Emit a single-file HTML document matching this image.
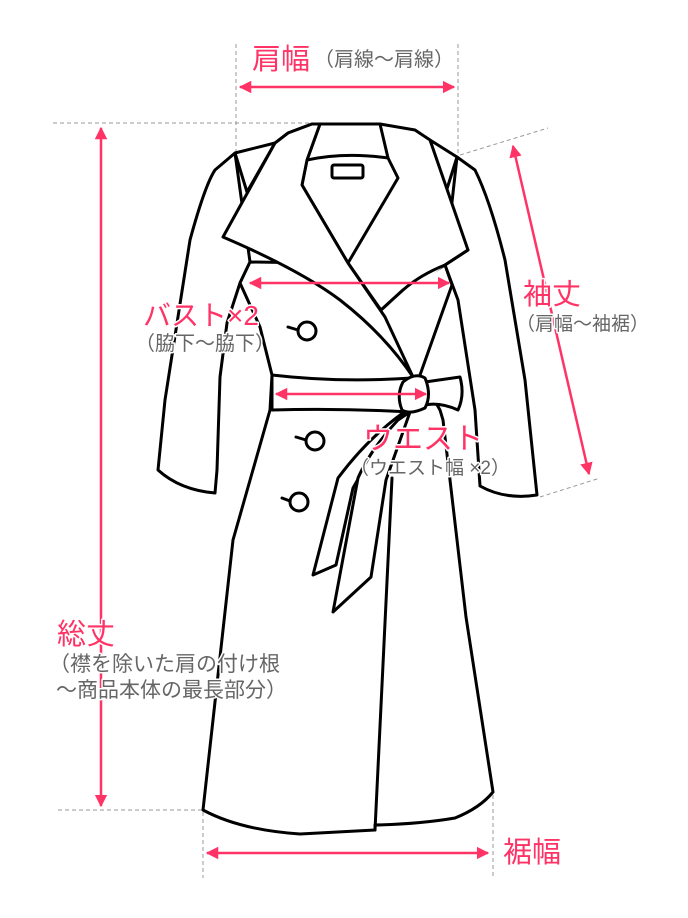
<!DOCTYPE html>
<html><head><meta charset="utf-8"><style>
html,body{margin:0;padding:0;background:#fff;}
svg{display:block;}
text{font-family:"Liberation Sans","Noto Sans CJK JP",sans-serif;paint-order:stroke;stroke:#fff;stroke-width:3px;stroke-linejoin:round;}
.p{fill:#ff3366;}
.g{fill:#666;}
</style></head><body>
<svg width="688" height="918" viewBox="0 0 688 918" xmlns="http://www.w3.org/2000/svg">
<defs>
<marker id="a" viewBox="0 0 10 10" refX="9" refY="5" markerWidth="5" markerHeight="5" orient="auto-start-reverse"><path d="M0,0 L10,5 L0,10 z" fill="#ff3366"/></marker>
</defs>
<g stroke="#999" stroke-width="1" stroke-dasharray="4,3" fill="none">
<line x1="236" y1="44" x2="236" y2="155"/>
<line x1="458" y1="44" x2="458" y2="155"/>
<line x1="53" y1="123" x2="310" y2="123"/>
<line x1="58" y1="810" x2="203" y2="810"/>
<line x1="203" y1="812" x2="203" y2="878"/>
<line x1="493" y1="795" x2="493" y2="878"/>
<line x1="460" y1="155" x2="548" y2="128"/>
<line x1="540" y1="497" x2="600" y2="478"/>
</g>
<g fill="#fff" stroke="#000" stroke-width="3" stroke-linejoin="round" stroke-linecap="round">
<path d="M235,153 L215,170 Q205,185 190,240 L165,400 L158,470 Q180,490 215,493 L217,470 L220,377 L227,323 L240,283 L250,262 Z"/>
<path d="M457,157 L475,170 Q490,200 505,260 L525,380 L537,495 Q505,500 480,486 L475,410 L458,300 L445,265 Z"/>
<path d="M250,262 L240,283 L260,327 L272,375 L270,410 L233,540 L203,810 Q240,830 300,834 L375,830 L375,825 Q420,824 455,818 Q480,808 493,792 L466,617 L443,420 L440,410 L420,375 L452,285 L445,265 Z"/>
<path d="M235,153 L275,143 L247,192 Z"/>
<path d="M457,157 L430,140 L446,192 Z"/>
<path d="M288,133 L312,124 L380,124 L415,130 L430,140 L468,250 L445,265 L403,290 L381,310 L348,263 L302,185 Z"/>
<path d="M307,160 Q345,152 388,158 L398,178 L348,263 L302,185 Z"/>
<path d="M320,124 L307,160 M380,124 L388,158" fill="none"/>
<rect x="332" y="165" width="31" height="13" rx="2"/>
<path d="M468,250 L445,265 Q420,275 403,290 L381,310"/>
<path d="M288,133 L275,143 L223,237 Q300,270 340,300 Q385,335 413,377 L385,317 L348,263 L302,185 L307,160 L320,124 L312,124 Z"/>
<path d="M272,375 Q340,383 412,378 L410,412 Q340,408 272,410 Z"/>
<path d="M425,382 L460,377 Q465,395 458,410 Q440,402 425,405 Z"/>
<path d="M392,478 L375,830" fill="none"/>
<path d="M410,408 Q370,435 338,478 L313,575 L336,565 L353,488 Q380,440 398,420 Z"/>
<path d="M398,420 Q370,450 358,478 L333,612 L371,577 L386,480 L410,412 Z"/>
<path d="M403,382 Q415,372 425,378 Q432,395 425,408 Q410,415 402,410 Q396,395 403,382 Z"/>
<circle cx="307" cy="331" r="9"/><line x1="288" y1="327" x2="298" y2="330"/>
<circle cx="315" cy="441" r="9"/><line x1="296" y1="437" x2="306" y2="440"/>
<circle cx="299" cy="502" r="9"/><line x1="282" y1="498" x2="290" y2="501"/>
</g>
<g stroke="#ff3366" stroke-width="2.5" fill="none">
<line x1="240" y1="87" x2="454" y2="87" marker-start="url(#a)" marker-end="url(#a)"/>
<line x1="101" y1="128" x2="101" y2="806" marker-start="url(#a)" marker-end="url(#a)"/>
<line x1="250" y1="283" x2="449" y2="283" marker-start="url(#a)" marker-end="url(#a)"/>
<line x1="276" y1="394" x2="426" y2="394" marker-start="url(#a)" marker-end="url(#a)"/>
<line x1="513" y1="146" x2="589" y2="474" marker-start="url(#a)" marker-end="url(#a)"/>
<line x1="207" y1="853" x2="488" y2="853" marker-start="url(#a)" marker-end="url(#a)"/>
</g>
<text x="252" y="69" class="p" font-size="29">肩幅</text>
<text x="314" y="66" class="g" font-size="20">（肩線～肩線）</text>
<text x="143" y="325" class="p" font-size="28">バスト×2</text>
<text x="135" y="350" class="g" font-size="20">（脇下～脇下）</text>
<text x="363" y="449" class="p" font-size="30">ウエスト</text>
<text x="350" y="474" class="g" font-size="19">（ウエスト幅 ×2）</text>
<text x="523" y="304" class="p" font-size="29">袖丈</text>
<text x="516" y="330" class="g" font-size="19">（肩幅～袖裾）</text>
<text x="57" y="644" class="p" font-size="29">総丈</text>
<text x="49" y="671" class="g" font-size="21">（襟を除いた肩の付け根</text>
<text x="56" y="697" class="g" font-size="21">～商品本体の最長部分）</text>
<text x="503" y="862" class="p" font-size="29">裾幅</text>
</svg>
</body></html>
